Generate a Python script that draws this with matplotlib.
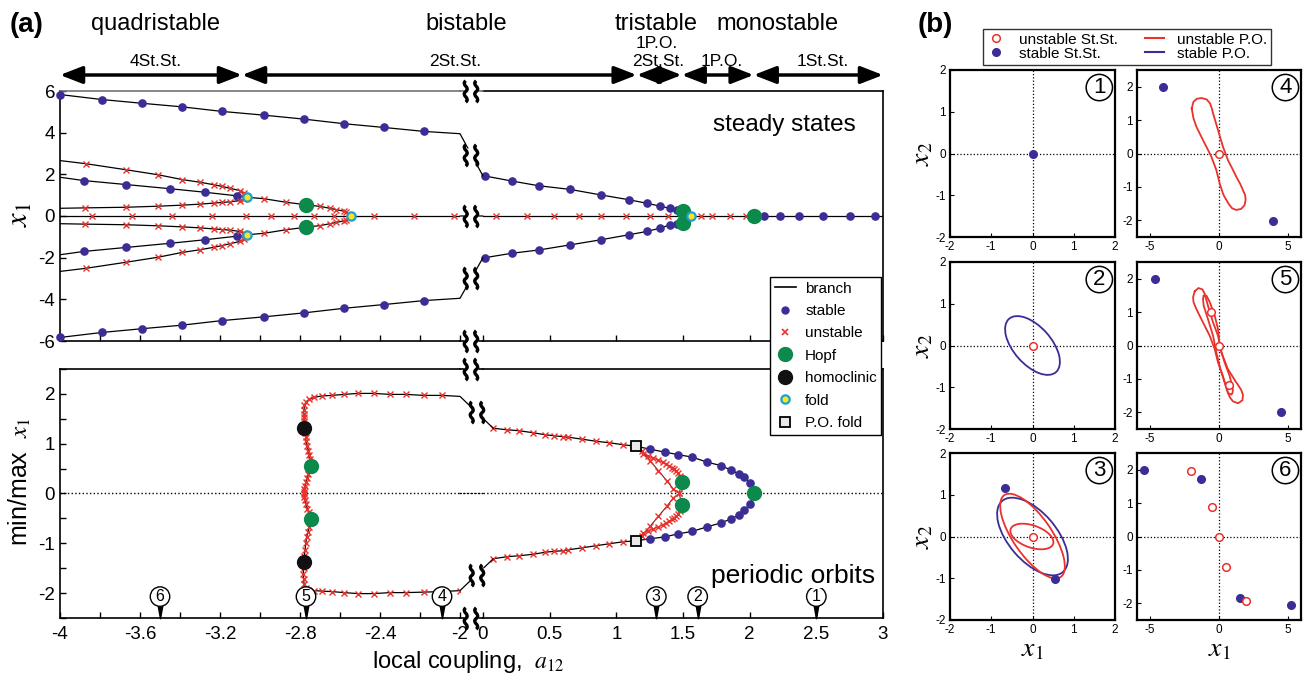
import numpy as np
import matplotlib
matplotlib.use('Agg')
import matplotlib.pyplot as plt
import matplotlib.transforms as mtransforms
from matplotlib.patches import ConnectionPatch, Ellipse
from matplotlib.lines import Line2D
from matplotlib.path import Path

plt.rcParams['font.family'] = ['Liberation Sans', 'DejaVu Sans']
plt.rcParams['mathtext.fontset'] = 'stix'
plt.rcParams['axes.unicode_minus'] = False

BLUE = '#3a2e96'
RED = '#e8322b'
GREEN = '#0b8a4b'
CYAN = '#1e9fd8'
YELLOW = '#ffe41a'

# ---------------- data: steady states, a12 in [-4,-2] ----------------
tl_outer_x = [-4.0, -3.79, -3.59, -3.39, -3.19, -2.98, -2.78, -2.58, -2.38, -2.18, -2.0]
tl_outer_y = [5.83, 5.59, 5.41, 5.24, 5.02, 4.84, 4.65, 4.43, 4.25, 4.06, 3.95]
# unstable branch through the Hopf point to the pitchfork at y=0
tl_a_x = [-4.0, -3.87, -3.67, -3.51, -3.39, -3.30, -3.23, -3.19, -3.15, -3.10, -3.08, -3.065,
          -2.98, -2.87, -2.77, -2.70, -2.65, -2.62, -2.58, -2.57, -2.545]
tl_a_y = [2.66, 2.51, 2.22, 1.98, 1.75, 1.62, 1.50, 1.42, 1.33, 1.22, 1.11, 0.90,
          0.83, 0.66, 0.54, 0.46, 0.37, 0.31, 0.23, 0.18, 0.0]
# stable branch ending at the fold
tl_b_x = [-4.0, -3.88, -3.67, -3.45, -3.275, -3.117, -3.065]
tl_b_y = [1.86, 1.70, 1.51, 1.31, 1.14, 0.97, 0.90]
# unstable branch ending at the fold
tl_c_x = [-4.0, -3.875, -3.67, -3.51, -3.39, -3.30, -3.23, -3.19, -3.15, -3.10, -3.08, -3.065]
tl_c_y = [0.37, 0.39, 0.42, 0.47, 0.52, 0.57, 0.62, 0.65, 0.68, 0.74, 0.81, 0.90]
tl_zero_x = [-3.84, -3.64, -3.44, -3.24, -3.07, -2.945, -2.83, -2.73, -2.63, -2.43, -2.23, -2.03]
tl_fold_x = [-3.065, -3.065, -2.545]
tl_fold_y = [0.90, -0.90, 0.0]
tl_hopf_x = [-2.77, -2.77]
tl_hopf_y = [0.54, -0.52]

# ---------------- data: steady states, a12 in [0,3] ----------------
tr_x = [0.015, 0.215, 0.42, 0.65, 0.885, 1.095, 1.23, 1.33, 1.40, 1.453, 1.498, 1.558]
tr_up_y = [1.92, 1.68, 1.45, 1.28, 1.01, 0.78, 0.61, 0.47, 0.37, 0.27, 0.24, 0.0]
tr_lo_y = [-2.0, -1.79, -1.63, -1.39, -1.14, -0.90, -0.74, -0.58, -0.43, -0.37, -0.32, 0.0]
tr_zero_unst_x = [0.095, 0.33, 0.535, 0.72, 0.885, 1.07, 1.25, 1.385, 1.635, 1.715, 1.85, 1.97]
tr_zero_st_x = [2.11, 2.23, 2.37, 2.55, 2.75, 2.94]
tr_hopf_x = [1.498, 1.498, 2.03]
tr_hopf_y = [0.24, -0.32, 0.0]
tr_fold_x = [1.558]
tr_fold_y = [0.0]

# ---------------- data: periodic orbits, a12 in [-4,-2] ----------------
bl_x = [-2.00, -2.09, -2.18, -2.27, -2.35, -2.43, -2.51, -2.58, -2.64, -2.69, -2.73, -2.755, -2.77,
        -2.778, -2.78, -2.782, -2.78, -2.78, -2.78, -2.78, -2.776, -2.772, -2.77, -2.764, -2.758,
        -2.754, -2.75, -2.747, -2.745, -2.751, -2.758, -2.764, -2.77, -2.776, -2.78, -2.781, -2.78,
        -2.778, -2.775, -2.769, -2.763, -2.756, -2.75, -2.745, -2.749, -2.753, -2.76, -2.767, -2.771,
        -2.775, -2.778, -2.78, -2.782, -2.783, -2.782, -2.78, -2.772, -2.758, -2.73, -2.69, -2.64,
        -2.58, -2.51, -2.43, -2.35, -2.27, -2.18, -2.09, -2.00]
bl_y = [1.95, 1.97, 1.97, 1.99, 1.99, 2.01, 2.01, 1.99, 1.97, 1.96, 1.93, 1.89, 1.84,
        1.77, 1.68, 1.60, 1.53, 1.45, 1.38, 1.31, 1.22, 1.14, 1.06, 0.96, 0.86,
        0.78, 0.69, 0.62, 0.55, 0.47, 0.39, 0.31, 0.23, 0.16, 0.09, 0.04, -0.01,
        -0.07, -0.14, -0.22, -0.31, -0.38, -0.44, -0.52, -0.60, -0.67, -0.77, -0.87, -1.00,
        -1.14, -1.25, -1.37, -1.49, -1.61, -1.71, -1.81, -1.89, -1.94, -1.95, -1.96, -1.97,
        -1.99, -2.01, -2.01, -1.99, -1.99, -1.98, -1.97, -1.95]
bl_hopf_x = [-2.745, -2.745]
bl_hopf_y = [0.55, -0.52]
bl_hom_x = [-2.78, -2.78]
bl_hom_y = [1.31, -1.37]

# ---------------- data: periodic orbits, a12 in [0,3] ----------------
br_unst_x = [0.077, 0.178, 0.272, 0.377, 0.465, 0.535, 0.598, 0.64, 0.745, 0.845, 0.945, 1.048, 1.145]
br_unst_up = [1.31, 1.28, 1.26, 1.22, 1.18, 1.16, 1.14, 1.13, 1.09, 1.05, 1.02, 0.98, 0.95]
br_unst_lo = [-1.31, -1.27, -1.25, -1.22, -1.18, -1.16, -1.15, -1.13, -1.09, -1.05, -1.01, -0.97, -0.95]
br_st_x = [1.145, 1.2525, 1.365, 1.465, 1.57, 1.68, 1.785, 1.86, 1.92, 1.96, 2.0025, 2.0325]
br_st_up = [0.95, 0.89, 0.83, 0.78, 0.73, 0.63, 0.56, 0.47, 0.39, 0.33, 0.21, 0.0]
br_st_lo = [-0.95, -0.91, -0.87, -0.81, -0.76, -0.67, -0.59, -0.51, -0.43, -0.34, -0.21, 0.0]
# unstable orbit families between P.O. folds and Hopf points
br_out_x = [1.145, 1.2025, 1.24, 1.2775, 1.315, 1.348, 1.3725, 1.3975, 1.4175, 1.435, 1.45,
            1.465, 1.475, 1.4825, 1.49]
br_out_y = [0.95, 0.79, 0.75, 0.71, 0.67, 0.63, 0.59, 0.55, 0.52, 0.49, 0.45, 0.41, 0.36, 0.31, 0.24]
br_in_x = [1.145, 1.19, 1.2525, 1.315, 1.3775, 1.4275, 1.4725, 1.49]
br_in_y = [0.95, 0.86, 0.66, 0.46, 0.26, 0.09, 0.0, -0.24]
br_pofold_x = [1.145, 1.145]
br_pofold_y = [0.95, -0.95]
br_hopf_x = [1.49, 1.49, 2.0325]
br_hopf_y = [0.24, -0.24, 0.0]

pins_left_x = [-3.5, -2.77, -2.09]
pins_left_lab = ['6', '5', '4']
pins_right_x = [1.30, 1.61, 2.50]
pins_right_lab = ['3', '2', '1']

regime_edges = [-4.0, -3.09, 1.153, 1.49, 2.03, 3.0]

# ---------------- data: phase portraits (b) ----------------
pp1_stable = ([0.0], [0.0])
pp2_unstable = ([0.0], [0.0])
pp2_po_stable = (0.0, 0.0, 1.71, 0.91, -48)     # centre x, centre y, width, height, angle
pp3_stable = ([-0.667, 0.545], [1.17, -1.01])
pp3_unstable = ([0.0], [0.0])
pp3_po_stable = (0.0, 0.0, 2.25, 1.16, -49)
pp3_po_unstable = [(0.0, 0.01, 2.39, 0.93, -55), (-0.015, 0.0, 1.09, 0.53, -19)]
pp4_stable = ([-4.06, 3.91], [1.98, -2.03])
pp4_unstable = ([0.0], [0.0])
pp4_po_x = [-1.98, -1.85, -1.60, -1.25, -0.90, -0.65, -0.52, -0.43, -0.25, -0.07, 0.29, 0.65, 1.00, 1.26,
            1.55, 1.74, 1.90, 1.93, 1.85, 1.60, 1.25, 0.95, 0.72, 0.55, 0.40, 0.29, 0.05, -0.19, -0.55,
            -0.85, -1.16, -1.40, -1.64, -1.85, -1.98]
pp4_po_y = [1.35, 1.55, 1.64, 1.66, 1.62, 1.50, 1.35, 1.20, 0.95, 0.70, 0.20, -0.20, -0.48, -0.70,
            -0.92, -1.10, -1.25, -1.40, -1.55, -1.66, -1.69, -1.64, -1.52, -1.40, -1.30, -1.20, -0.90,
            -0.50, -0.10, 0.15, 0.40, 0.60, 0.80, 1.05, 1.35]
pp5_stable = ([-4.66, 4.47], [2.0, -2.0])
pp5_unstable = ([-0.55, 0.0, 0.70], [1.01, 0.0, -1.17])
pp5_po_outer_x = [-1.76, -1.50, -1.20, -1.04, -0.80, -0.43, -0.07, 0.17, 0.65, 1.26, 1.60, 1.74, 1.70,
                  1.38, 1.01, 0.80, 0.65, 0.29, -0.07, -0.31, -0.67, -1.16, -1.64, -1.85, -1.88, -1.76]
pp5_po_outer_y = [1.62, 1.72, 1.68, 1.55, 1.19, 0.69, 0.29, -0.21, -0.71, -1.11, -1.32, -1.48, -1.64,
                  -1.73, -1.67, -1.56, -1.42, -0.92, -0.51, -0.11, 0.29, 0.69, 1.09, 1.30, 1.45, 1.62]
pp5_po_inner_x = [-1.11, -0.91, -0.67, -0.31, -0.07, 0.05, 0.41, 0.78, 1.01, 0.98, 0.90, 0.65, 0.41,
                  0.10, -0.19, -0.43, -0.80, -1.11, -1.16, -1.11]
pp5_po_inner_y = [1.49, 1.49, 1.30, 0.89, 0.49, -0.01, -0.51, -0.92, -1.32, -1.42, -1.47, -1.42, -1.11,
                  -0.71, -0.21, 0.29, 0.79, 1.19, 1.39, 1.49]
pp6_stable = ([-5.43, -1.28, 1.55, 5.25], [2.0, 1.73, -1.84, -2.04])
pp6_unstable = ([-2.0, -0.51, 0.0, 0.53, 1.99], [1.95, 0.87, 0.0, -0.92, -1.94])

# ---------------- figure ----------------
W, H = 1307, 681
fig = plt.figure(figsize=(W / 100, H / 100), dpi=100)


def box(l, t, r, b):
    return [l / W, 1 - b / H, (r - l) / W, (b - t) / H]


def fpos(px, py):
    return px / W, 1 - py / H


def branch(ax, x, y):
    ax.plot(x, y, color='k', lw=0.9, zorder=2)


def stable(ax, x, y):
    ax.plot(x, y, 'o', color=BLUE, ms=5.2, zorder=3, clip_on=False)


def unstable(ax, x, y):
    ax.plot(x, y, 'x', color=RED, ms=4.5, mew=1.0, zorder=3)


def hopf(ax, x, y):
    ax.plot(x, y, 'o', color=GREEN, ms=10, zorder=4, clip_on=False)


def fold(ax, x, y):
    ax.plot(x, y, 'o', mfc=YELLOW, mec=CYAN, ms=6, mew=1.6, zorder=5)


axTL = fig.add_axes(box(60, 91, 460, 341))
axTR = fig.add_axes(box(483, 91, 883, 341))
axBL = fig.add_axes(box(60, 369, 460, 618))
axBR = fig.add_axes(box(483, 369, 883, 618))

for ax in (axTL, axTR, axBL, axBR):
    ax.tick_params(direction='in', length=4, width=1, labelsize=13.5, which='both')
    for s in ax.spines.values():
        s.set_linewidth(1.2)
for ax in (axTL, axBL):
    ax.set_xlim(-4, -2)
    ax.spines['right'].set_visible(False)
for ax in (axTR, axBR):
    ax.set_xlim(0, 3)
    ax.spines['left'].set_visible(False)
    ax.tick_params(left=False, labelleft=False, which='both')
for ax in (axTL, axTR):
    ax.set_ylim(-6, 6)
for ax in (axBL, axBR):
    ax.set_ylim(-2.5, 2.5)
axTL.spines['top'].set_color('0.45')

axTL.set_yticks([-6, -4, -2, 0, 2, 4, 6])
axTL.set_xticks(np.arange(-4, -1.99, 0.2))
axTL.set_xticklabels([])
axTR.set_xticks(np.arange(0, 3.01, 0.5))
axTR.set_xticklabels([])
axBL.set_xticks([-4, -3.6, -3.2, -2.8, -2.4, -2])
axBL.set_xticklabels(['-4', '-3.6', '-3.2', '-2.8', '-2.4', '-2'])
axBL.set_xticks(np.arange(-4, -1.99, 0.2), minor=True)
axBL.set_yticks([-2, -1, 0, 1, 2])
axBL.set_yticks(np.arange(-2.5, 2.51, 0.5), minor=True)
axBR.set_xticks(np.arange(0, 3.01, 0.5))
axBR.set_xticklabels(['0', '0.5', '1', '1.5', '2', '2.5', '3'])
axBR.tick_params(axis='x', pad=6)
axBL.tick_params(axis='x', pad=6)

# ---- steady states, left
for sgn in (1, -1):
    oy = [sgn * v for v in tl_outer_y]
    branch(axTL, tl_outer_x, oy)
    stable(axTL, tl_outer_x[:-1], oy[:-1])
    ay = [sgn * v for v in tl_a_y]
    branch(axTL, tl_a_x, ay)
    unstable(axTL, tl_a_x[1:-1], ay[1:-1])
    by = [sgn * v for v in tl_b_y]
    branch(axTL, tl_b_x, by)
    stable(axTL, tl_b_x[1:-1], by[1:-1])
    cy = [sgn * v for v in tl_c_y]
    branch(axTL, tl_c_x, cy)
    unstable(axTL, tl_c_x[1:-1], cy[1:-1])
branch(axTL, [-4, -2], [0, 0])
unstable(axTL, tl_zero_x, [0] * len(tl_zero_x))
hopf(axTL, tl_hopf_x, tl_hopf_y)
fold(axTL, tl_fold_x, tl_fold_y)

# ---- steady states, right
for ys in (tr_up_y, tr_lo_y):
    branch(axTR, tr_x, ys)
    stable(axTR, tr_x[:-2], ys[:-2])
branch(axTR, [0, 3], [0, 0])
unstable(axTR, tr_zero_unst_x, [0] * len(tr_zero_unst_x))
stable(axTR, tr_zero_st_x, [0] * len(tr_zero_st_x))
hopf(axTR, tr_hopf_x, tr_hopf_y)
fold(axTR, tr_fold_x, tr_fold_y)

# ---- periodic orbits, left
axBL.axhline(0, color='k', ls=':', lw=1)
axBR.axhline(0, color='k', ls=':', lw=1)
branch(axBL, bl_x, bl_y)
unstable(axBL, bl_x[1:], bl_y[1:])
hopf(axBL, bl_hopf_x, bl_hopf_y)
axBL.plot(bl_hom_x, bl_hom_y, 'o', color='#111111', ms=10, zorder=4)

# ---- periodic orbits, right
for ys in (br_unst_up, br_unst_lo):
    branch(axBR, br_unst_x, ys)
    unstable(axBR, br_unst_x[:-1], ys[:-1])
for ys in (br_st_up, br_st_lo):
    branch(axBR, br_st_x, ys)
    stable(axBR, br_st_x[1:-1], ys[1:-1])
for sgn in (1, -1):
    oy = [sgn * v for v in br_out_y]
    axBR.plot(br_out_x, oy, color=RED, lw=0.8, zorder=2)
    unstable(axBR, br_out_x[1:-1], oy[1:-1])
    iy = [sgn * v for v in br_in_y]
    axBR.plot(br_in_x, iy, color='#8a1a14', lw=0.8, zorder=2)
    unstable(axBR, br_in_x[1:-1], iy[1:-1])
hopf(axBR, br_hopf_x, br_hopf_y)
axBR.plot(br_pofold_x, br_pofold_y, 's', mfc='#e8e8e8', mec='k', ms=7.5, mew=1.3, zorder=5)

# ---- numbered pins
pin = Path([(-0.18, 0.5), (0.18, 0.5), (0, -0.5), (-0.18, 0.5)])
for ax, xs, labs in ((axBL, pins_left_x, pins_left_lab), (axBR, pins_right_x, pins_right_lab)):
    for x, s in zip(xs, labs):
        ax.plot([x], [-2.37], marker=pin, color='k', ms=9, zorder=6, clip_on=False)
        ax.text(x, -2.07, s, ha='center', va='center', fontsize=11.5, zorder=7,
                bbox=dict(boxstyle='circle,pad=0.14', fc='white', ec='k', lw=1))

axTR.text(0.933, 0.865, 'steady states', transform=axTR.transAxes, ha='right', va='center', fontsize=17.5)
axBR.text(0.98, 0.17, 'periodic orbits', transform=axBR.transAxes, ha='right', va='center',
          fontsize=19, zorder=8, bbox=dict(fc='white', ec='none', pad=0.5))

# ---- axis breaks
inv = fig.transFigure.inverted()
C4 = Path.CURVE4
squig = Path([(-0.27, 0.5), (-0.52, 0.3), (-0.02, 0.2), (-0.27, 0.0), (-0.52, -0.2), (-0.02, -0.3), (-0.27, -0.5),
              (0.22, 0.5), (-0.03, 0.3), (0.47, 0.2), (0.22, 0.0), (-0.03, -0.2), (0.47, -0.3), (0.22, -0.5)],
             [Path.MOVETO, C4, C4, C4, C4, C4, C4, Path.MOVETO, C4, C4, C4, C4, C4, C4])


def squiggle(xy_disp):
    fx, fy = inv.transform(xy_disp)
    fig.add_artist(Line2D([fx], [fy], transform=fig.transFigure, ls='', marker='s', ms=10,
                          mfc='white', mec='none', zorder=9))
    fig.add_artist(Line2D([fx], [fy], transform=fig.transFigure, ls='', marker=squig, ms=16,
                          mfc='none', mec='k', mew=2.4, zorder=10))


def bridge(axl, axr, pa, pb, coords, color='k', lw=0.9):
    ta = axl.transData if coords == 'data' else axl.transAxes
    tb = axr.transData if coords == 'data' else axr.transAxes
    fig.add_artist(ConnectionPatch(xyA=pa, coordsA=ta, xyB=pb, coordsB=tb, color=color, lw=lw))
    da = ta.transform(pa)
    db = tb.transform(pb)
    squiggle((da + db) / 2)


bridge(axTL, axTR, (1, 1), (0, 1), 'axes', color='0.45', lw=1.2)
bridge(axTL, axTR, (1, 0), (0, 0), 'axes', lw=1.2)
bridge(axBL, axBR, (1, 1), (0, 1), 'axes', lw=1.2)
bridge(axBL, axBR, (1, 0), (0, 0), 'axes', lw=1.2)
bridge(axTL, axTR, (-2, tl_outer_y[-1]), (0, tr_up_y[0]), 'data')
bridge(axTL, axTR, (-2, -tl_outer_y[-1]), (0, tr_lo_y[0]), 'data')
bridge(axTL, axTR, (-2, 0), (0, 0), 'data')
bridge(axBL, axBR, (-2, bl_y[0]), (br_unst_x[0], br_unst_up[0]), 'data')
bridge(axBL, axBR, (-2, bl_y[-1]), (br_unst_x[0], br_unst_lo[0]), 'data')
# dotted zero line runs straight across the break
fig.add_artist(ConnectionPatch(xyA=(-2, 0), coordsA=axBL.transData, xyB=(0, 0), coordsB=axBR.transData,
                               color='k', lw=1, ls=':'))

# ---- regime arrows at the top
yarr = 1 - 75 / H


def xform(x):
    ax = axTL if x <= -2 else axTR
    return mtransforms.blended_transform_factory(ax.transData, fig.transFigure)


for x0, x1 in zip(regime_edges[:-1], regime_edges[1:]):
    axTL.annotate('', xy=(x1, yarr), xycoords=xform(x1), xytext=(x0, yarr), textcoords=xform(x0),
                  annotation_clip=False,
                  arrowprops=dict(arrowstyle='<|-|>,head_length=0.9,head_width=0.35', lw=2.5,
                                  color='k', shrinkA=0, shrinkB=0, mutation_scale=15))

for s, px in (('quadristable', 156), ('bistable', 466), ('tristable', 656), ('monostable', 777)):
    fig.text(*fpos(px, 24), s, ha='center', va='center', fontsize=17)
for s, px, py in (('4St.St.', 156, 62), ('2St.St.', 455, 62), ('1P.O.', 657, 43),
                  ('2St.St.', 658, 62), ('1P.O.', 722, 62), ('1St.St.', 823, 62)):
    fig.text(*fpos(px, py), s, ha='center', va='center', fontsize=12.5)

fig.text(*fpos(27, 25), '(a)', ha='center', va='center', fontsize=20, fontweight='bold')
fig.text(*fpos(935, 25), '(b)', ha='center', va='center', fontsize=20, fontweight='bold')
fig.text(*fpos(20, 215), '$x_1$', ha='center', va='center', rotation=90, fontsize=22)
fig.text(*fpos(20, 482), 'min/max  $x_1$', ha='center', va='center', rotation=90, fontsize=18)
fig.text(*fpos(468, 662), 'local coupling,  $a_{12}$', ha='center', va='center', fontsize=17)

leg_a = [Line2D([], [], color='k', lw=1.2, label='branch'),
         Line2D([], [], ls='', marker='o', color=BLUE, ms=5, label='stable'),
         Line2D([], [], ls='', marker='x', color=RED, ms=5, mew=1.2, label='unstable'),
         Line2D([], [], ls='', marker='o', color=GREEN, ms=10, label='Hopf'),
         Line2D([], [], ls='', marker='o', color='#111111', ms=10, label='homoclinic'),
         Line2D([], [], ls='', marker='o', mfc=YELLOW, mec=CYAN, ms=6, mew=1.6, label='fold'),
         Line2D([], [], ls='', marker='s', mfc='#e8e8e8', mec='k', ms=7, mew=1.3, label='P.O. fold')]
fig.legend(handles=leg_a, loc='upper left', bbox_to_anchor=fpos(770, 277), fontsize=11,
           fancybox=False, edgecolor='k', framealpha=1, borderpad=0.3, labelspacing=0.55,
           handlelength=1.4, handletextpad=0.6, borderaxespad=0)

# ---------------- panel (b) ----------------
cols = [(950, 1115), (1137, 1301)]
rows = [(70, 237), (262, 429), (453, 620)]
pp = {}
for c, (l, r) in enumerate(cols):
    for rr, (t, b) in enumerate(rows):
        ax = fig.add_axes(box(l, t, r, b))
        ax.tick_params(direction='in', length=3, width=0.8, labelsize=8.5, pad=3)
        for s in ax.spines.values():
            s.set_linewidth(1.6)
        ax.axhline(0, color='k', ls=':', lw=0.9, zorder=1)
        ax.axvline(0, color='k', ls=':', lw=0.9, zorder=1)
        if c == 0:
            ax.set_xlim(-2, 2)
            ax.set_ylim(-2, 2)
            ax.set_xticks([-2, -1, 0, 1, 2])
            ax.set_yticks([-2, -1, 0, 1, 2])
            ax.set_ylabel('$x_2$', fontsize=20, labelpad=0)
        else:
            ax.set_xlim(-5.95, 5.95)
            ax.set_ylim(-2.5, 2.5)
            ax.set_xticks([-5, 0, 5])
            ax.set_yticks([-2, -1, 0, 1, 2])
        if rr == 2:
            ax.set_xlabel('$x_1$', fontsize=20, labelpad=0)
        num = str(rr + 1 + 3 * c)
        ax.text(0.905, 0.895, num, transform=ax.transAxes, ha='center', va='center', fontsize=16,
                bbox=dict(boxstyle='circle,pad=0.12', fc='white', ec='k', lw=1.1))
        pp[num] = ax


def pts_stable(ax, d):
    ax.plot(d[0], d[1], 'o', color=BLUE, ms=5.5, zorder=4)


def pts_unstable(ax, d):
    ax.plot(d[0], d[1], 'o', mfc='white', mec=RED, ms=5.5, mew=1.1, zorder=4)


def ell(ax, p, color):
    ax.add_patch(Ellipse((p[0], p[1]), p[2], p[3], angle=p[4], fill=False, ec=color, lw=1.3, zorder=3))


pts_stable(pp['1'], pp1_stable)
ell(pp['2'], pp2_po_stable, BLUE)
pts_unstable(pp['2'], pp2_unstable)
ell(pp['3'], pp3_po_stable, BLUE)
for p in pp3_po_unstable:
    ell(pp['3'], p, RED)
pts_stable(pp['3'], pp3_stable)
pts_unstable(pp['3'], pp3_unstable)
pp['4'].plot(pp4_po_x, pp4_po_y, color=RED, lw=1.3, zorder=3)
pts_stable(pp['4'], pp4_stable)
pts_unstable(pp['4'], pp4_unstable)
pp['5'].plot(pp5_po_outer_x, pp5_po_outer_y, color=RED, lw=1.3, zorder=3)
pp['5'].plot(pp5_po_inner_x, pp5_po_inner_y, color=RED, lw=1.3, zorder=3)
pts_stable(pp['5'], pp5_stable)
pts_unstable(pp['5'], pp5_unstable)
pts_stable(pp['6'], pp6_stable)
pts_unstable(pp['6'], pp6_unstable)

leg_b = [Line2D([], [], ls='', marker='o', mfc='white', mec=RED, ms=5.5, mew=1.1, label='unstable St.St.'),
         Line2D([], [], ls='', marker='o', color=BLUE, ms=5.5, label='stable St.St.'),
         Line2D([], [], color=RED, lw=1.5, label='unstable P.O.'),
         Line2D([], [], color=BLUE, lw=1.5, label='stable P.O.')]
fig.legend(handles=leg_b, loc='upper left', bbox_to_anchor=fpos(983, 29), ncol=2, fontsize=11,
           fancybox=False, edgecolor='0.2', framealpha=1, borderpad=0.25, labelspacing=0.0,
           handlelength=1.2, handletextpad=0.9, columnspacing=1.8, borderaxespad=0)

fig.savefig('out.png', dpi=100)
